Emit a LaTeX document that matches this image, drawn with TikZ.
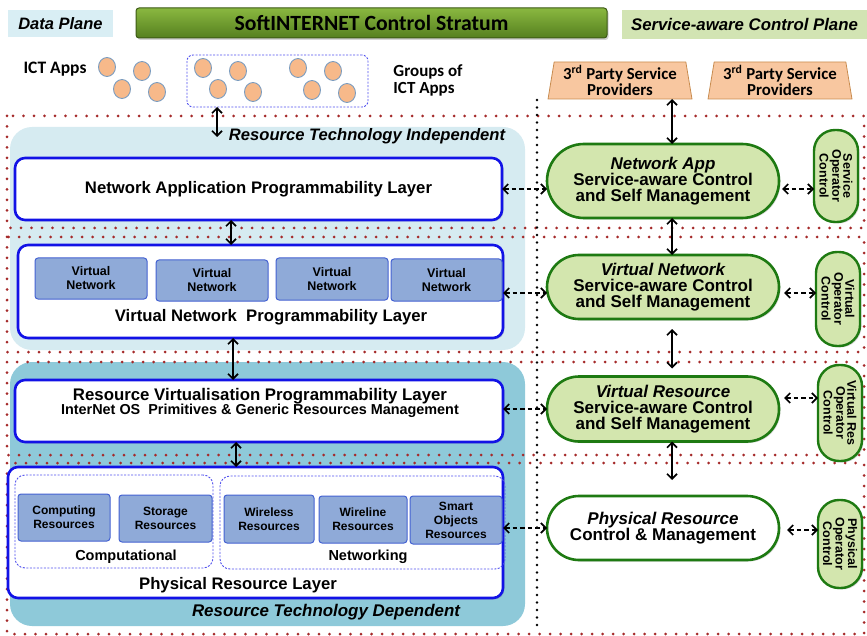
\documentclass[tikz,border=0pt]{standalone}
\usepackage{fontspec}
\setmainfont{Liberation Sans}
\newfontfamily\narrowf{Carlito}
\usetikzlibrary{shapes.geometric,arrows.meta,shadows}
\definecolor{layerblue}{HTML}{1212E6}
\definecolor{vnfill}{HTML}{8FAAD8}
\definecolor{vnborder}{HTML}{4462D2}
\definecolor{bgone}{HTML}{D6EBF1}
\definecolor{bgtwo}{HTML}{8EC9D9}
\definecolor{dotred}{HTML}{A52A2A}
\definecolor{pillborder}{HTML}{1E7A12}
\definecolor{pillfill}{HTML}{D3E6AE}
\definecolor{appfill}{HTML}{F7B98A}
\definecolor{appdraw}{HTML}{7A9CC0}
\definecolor{trapfill}{HTML}{F8C7A0}
\definecolor{trapdraw}{HTML}{C88C50}
\definecolor{hdtop}{HTML}{8AB840}
\definecolor{hdbot}{HTML}{557F1F}
\definecolor{hddraw}{HTML}{3C5A14}
\definecolor{dpbg}{HTML}{D9EEF4}
\definecolor{spbg}{HTML}{D2E4B3}
\definecolor{grpblue}{HTML}{5050EE}
\newcommand\myfs[2]{\fontsize{#1}{#2}\selectfont}
\begin{document}
\begin{tikzpicture}[x=1pt,y=-1pt,
  every node/.style={inner sep=0pt, outer sep=0pt},
  layer/.style={draw=layerblue, line width=2.6pt, fill=white, rounded corners=10pt,
    drop shadow={opacity=0.25, shadow xshift=1.5pt, shadow yshift=-1.5pt}},
  vnbox/.style={draw=vnborder, line width=1pt, fill=vnfill, rounded corners=3pt,
    align=center, font=\bfseries\myfs{12.5}{14}},
  grpbox/.style={draw=grpblue, line width=0.9pt, dash pattern=on 2pt off 1.5pt, rounded corners=10pt},
  pill/.style={draw=pillborder, line width=2.6pt, fill=pillfill, align=center,
    font=\bfseries\myfs{17}{16}, minimum width=232pt,
    drop shadow={opacity=0.3, shadow xshift=1.5pt, shadow yshift=-1.5pt}},
  opc/.style={draw=pillborder, line width=2.4pt, fill=pillfill, align=center,
    font=\bfseries\myfs{12.5}{11}, rotate=-90, minimum height=44pt, rounded corners=21pt,
    drop shadow={opacity=0.3, shadow xshift=1.5pt, shadow yshift=-1.5pt}},
  app/.style={ellipse, draw=appdraw, line width=0.9pt, fill=appfill,
    minimum width=17pt, minimum height=19pt},
  trap/.style={trapezium, trapezium left angle=80, trapezium right angle=80,
    trapezium stretches=true, draw=trapdraw, line width=0.8pt, fill=trapfill,
    minimum width=144pt, minimum height=37pt, align=center,
    font=\narrowf\bfseries\myfs{16.8}{12.5}},
  reddots/.style={draw=dotred, line width=3pt, line cap=round, dash pattern=on 0pt off 10.5pt},
  blackdots/.style={draw=black, line width=2.6pt, line cap=round, dash pattern=on 0pt off 7.5pt},
  dar/.style={{Straight Barb[length=5pt,width=10pt]}-{Straight Barb[length=5pt,width=10pt]}, line width=1.7pt},
  ddar/.style={dar, dash pattern=on 4.5pt off 3pt},
  lbl/.style={font=\bfseries\myfs{16.7}{18}, align=center}
]
\useasboundingbox (0,0) rectangle (867,636);

% ---------------- header ----------------
\node[fill=dpbg, minimum width=105pt, minimum height=27pt, font=\bfseries\itshape\myfs{16.5}{18}]
  (dp) at (60.5,23.5) {Data Plane};
\node[draw=hddraw, line width=1pt, top color=hdtop, bottom color=hdbot, rounded corners=3pt,
  minimum width=471pt, minimum height=30pt, font=\narrowf\bfseries\myfs{21.7}{24},
  drop shadow={opacity=0.35, shadow xshift=1.5pt, shadow yshift=-2pt}]
  (stratum) at (371.5,23) {SoftINTERNET Control Stratum};
\node[fill=spbg, minimum width=245pt, minimum height=29pt, font=\bfseries\itshape\myfs{16.8}{18}]
  (sp) at (744.5,24.5) {Service-aware Control Plane};

% ---------------- apps ----------------
\node[font=\narrowf\bfseries\myfs{17.5}{19}] (ictlbl) at (55,69) {ICT Apps};
\node[app] (a1) at (107,67) {};
\node[app] (a2) at (142,71) {};
\node[app] (a3) at (122,89) {};
\node[app] (a4) at (157,92) {};
\node[grpbox, minimum width=181pt, minimum height=52pt, rounded corners=6pt] (grp) at (277.5,81) {};
\node[app] (g1) at (203,68) {};
\node[app] (g2) at (238,71) {};
\node[app] (g3) at (218,89) {};
\node[app] (g4) at (253,92) {};
\node[app] (g5) at (298,68) {};
\node[app] (g6) at (333,71) {};
\node[app] (g7) at (312,90) {};
\node[app] (g8) at (347,93) {};
\node[font=\narrowf\bfseries\myfs{17}{17.5}, align=left] (grplbl) at (428,80.5) {Groups of\\ICT Apps};

\node[trap] (tp1) at (620,80.5) {3\textsuperscript{rd} Party Service\\Providers};
\node[trap] (tp2) at (780,80.5) {3\textsuperscript{rd} Party Service\\Providers};

% ---------------- backgrounds ----------------
\fill[bgone, rounded corners=22pt] (10,127) rectangle (525,350);
\fill[bgtwo, rounded corners=22pt] (10,362) rectangle (525,626);

% ---------------- red dotted layer frames ----------------
\draw[reddots] (7,116) rectangle (864,228);
\draw[reddots] (7,237) rectangle (864,352);
\draw[reddots] (7,362) rectangle (864,455);
\draw[reddots] (7,463) rectangle (864,634);

% black dotted divider
\draw[blackdots] (537,100) -- (537,630);

\node[font=\bfseries\itshape\myfs{16.6}{18}] (rti) at (367,136) {Resource Technology Independent};
\node[font=\bfseries\itshape\myfs{16.9}{18}] (rtd) at (326,612) {Resource Technology Dependent};

% ---------------- layers ----------------
\node[layer, minimum width=487pt, minimum height=62pt, lbl] (napl) at (258.5,189)
  {Network Application Programmability Layer};

\node[layer, minimum width=485pt, minimum height=93pt] (vnpl) at (260.5,291.5) {};
\node[vnbox, minimum width=112pt, minimum height=41pt] (vn1) at (91,278.5) {Virtual\\Network};
\node[vnbox, minimum width=112pt, minimum height=41pt] (vn2) at (212,280.5) {Virtual\\Network};
\node[vnbox, minimum width=112pt, minimum height=42pt] (vn3) at (332,279) {Virtual\\Network};
\node[vnbox, minimum width=111pt, minimum height=42pt] (vn4) at (446.5,280) {Virtual\\Network};
\node[lbl] (vnpllbl) at (271,317) {Virtual Network\ \ Programmability Layer};

\node[layer, minimum width=488pt, minimum height=62pt] (rvpl) at (259,411) {};
\node[align=center] (rvpllbl) at (260,403)
  {{\bfseries\myfs{16.8}{18}Resource Virtualisation Programmability Layer}\\[-1pt]
   {\bfseries\myfs{14.4}{16}InterNet OS\ \ Primitives \& Generic Resources Management}};

\node[layer, minimum width=495pt, minimum height=131pt] (prl) at (255.5,532.5) {};
\node[grpbox, minimum width=198pt, minimum height=93pt] (compg) at (114,521.5) {};
\node[grpbox, minimum width=285pt, minimum height=93pt] (netg) at (362.5,522.5) {};
\node[vnbox, minimum width=92pt, minimum height=47pt, font=\bfseries\myfs{12}{14}] (comp) at (64,517.5) {Computing\\Resources};
\node[vnbox, minimum width=93pt, minimum height=47pt, font=\bfseries\myfs{12}{14}] (stor) at (165.5,518.5) {Storage\\Resources};
\node[vnbox, minimum width=90pt, minimum height=48pt, font=\bfseries\myfs{12}{14}] (wless) at (269,519) {Wireless\\Resources};
\node[vnbox, minimum width=88pt, minimum height=47pt, font=\bfseries\myfs{12}{14}] (wline) at (363,519.5) {Wireline\\Resources};
\node[vnbox, minimum width=92pt, minimum height=48pt, font=\bfseries\myfs{12}{14}] (smart) at (456,520) {Smart\\Objects\\Resources};
\node[font=\bfseries\myfs{14.5}{16}] (complbl) at (126,557) {Computational};
\node[font=\bfseries\myfs{14.5}{16}] (netlbl) at (368,557) {Networking};
\node[font=\bfseries\myfs{16.7}{18}] (prllbl) at (238,585) {Physical Resource Layer};

% ---------------- control plane ----------------
\node[pill, minimum height=74pt, rounded corners=37pt] (nap) at (663,181)
  {\itshape Network App\\Service-aware Control\\and Self Management};
\node[pill, minimum height=64pt, rounded corners=32pt] (vnet) at (663,287)
  {\itshape Virtual Network\\Service-aware Control\\and Self Management};
\node[pill, minimum height=65pt, rounded corners=32pt] (vres) at (663,409)
  {\itshape Virtual Resource\\Service-aware Control\\and Self Management};
\node[pill, fill=white, minimum height=64pt, rounded corners=32pt] (phys) at (663,528)
  {\itshape Physical Resource\\Control \& Management};

\node[opc, minimum width=92pt] (soc) at (836,176) {Service\\Operator\\Control};
\node[opc, minimum width=94pt] (voc) at (838,299) {Virtual\\Operator\\Control};
\node[opc, minimum width=96pt] (vroc) at (840,413) {Virtual Res\\Operator\\Control};
\node[opc, minimum width=88pt] (poc) at (840,544) {Physical\\Operator\\Control};

% ---------------- arrows ----------------
\coordinate (rtitop) at (217,137);
\draw[dar] (217,0 |- grp.south) -- (rtitop);
\draw[dar] (231,0 |- napl.south) -- (231,0 |- vnpl.north);
\draw[dar] (233,0 |- vnpl.south) -- (233,0 |- rvpl.north);
\draw[dar] (236,0 |- rvpl.south) -- (236,0 |- prl.north);

\draw[dar] (672,0 |- tp1.south) -- (672,0 |- nap.north);
\draw[dar] (672,0 |- nap.south) -- (672,0 |- vnet.north);
\draw[dar, shorten <=10pt, shorten >=8pt] (672,0 |- vnet.south) -- (672,0 |- vres.north);
\draw[dar, shorten >=16pt] (672,0 |- vres.south) -- (672,0 |- phys.north);

\draw[ddar] (napl.east |- 0,189) -- (nap.west |- 0,189);
\draw[ddar] (vnpl.east |- 0,293) -- (vnet.west |- 0,293);
\draw[ddar] (rvpl.east |- 0,409) -- (vres.west |- 0,409);
\draw[ddar] (prl.east |- 0,528) -- (phys.west |- 0,528);

\draw[ddar, shorten <=3pt] (nap.east |- 0,189) -- (soc.south |- 0,189);
\draw[ddar, shorten <=5pt] (vnet.east |- 0,293) -- (voc.south |- 0,293);
\draw[ddar, shorten <=5pt] (vres.east |- 0,398) -- (vroc.south |- 0,398);
\draw[ddar, shorten <=8pt] (phys.east |- 0,530) -- (poc.south |- 0,530);
\end{tikzpicture}
\end{document}
